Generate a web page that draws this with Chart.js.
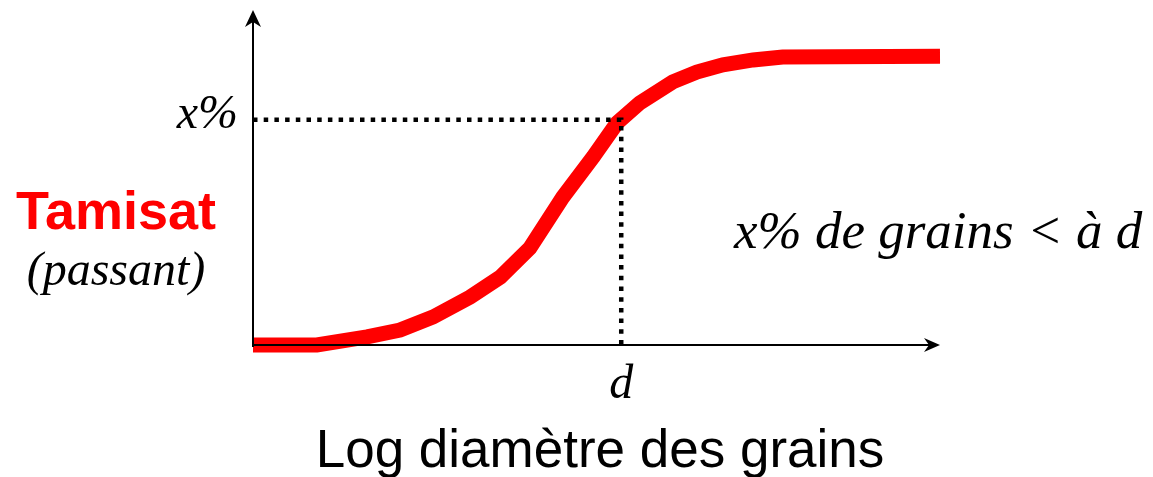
<!DOCTYPE html>
<html>
<head>
<meta charset="utf-8">
<script src="https://cdn.jsdelivr.net/npm/chart.js@4/dist/chart.umd.min.js"></script>
<style>
  html, body { margin: 0; padding: 0; background: #fff; }
  canvas { display: block; }
</style>
</head>
<body>
<canvas id="curveCanvas" width="1153" height="477"></canvas>
<script>
// granulometric curve (x: log diameter, y: % passing)
const logDiameter = [0, 9.3, 16.6, 21.4, 26.2, 31.6, 36.0, 40.3, 45.1, 49.5, 53.0, 56.3, 61.1, 64.6, 68.4, 72.8, 77.1, 100];
const passing     = [0, 0, 2.8, 5.2, 9.7, 16.6, 23.5, 33.6, 51.2, 65.1, 76.9, 83.8, 91.1, 94.5, 97.0, 98.7, 99.7, 100];

// the "d" marker and its x%
const markD = 53.6;
const markX = 78;

const xMax = 100;
const yMax = 116;

const curvePoints = logDiameter.map((x, i) => ({ x: x, y: passing[i] }));
const guidePoints = [
  { x: 0, y: markX },
  { x: markD, y: markX },
  { x: markD, y: 0 },
];

const serif = "'Liberation Serif', 'Times New Roman', serif";
const sans = "'Liberation Sans', Arial, sans-serif";

const axesAndLabels = {
  id: "axesAndLabels",
  afterDatasetsDraw(chart) {
    const c = chart.ctx;
    const xs = chart.scales.x;
    const ys = chart.scales.y;
    const x0 = xs.getPixelForValue(0);
    const y0 = ys.getPixelForValue(0);
    const top = chart.chartArea.top;
    const right = chart.chartArea.right;

    c.save();
    c.strokeStyle = "#000";
    c.fillStyle = "#000";
    c.lineWidth = 2;

    // y axis
    c.beginPath();
    c.moveTo(x0, y0 + 2);
    c.lineTo(x0, top + 8);
    c.stroke();
    c.beginPath();
    c.moveTo(x0, top);
    c.lineTo(x0 - 8, top + 17);
    c.lineTo(x0, top + 12);
    c.lineTo(x0 + 8, top + 17);
    c.closePath();
    c.fill();

    // x axis
    c.beginPath();
    c.moveTo(x0, y0);
    c.lineTo(right - 8, y0);
    c.stroke();
    c.beginPath();
    c.moveTo(right, y0);
    c.lineTo(right - 16, y0 - 7);
    c.lineTo(right - 11, y0);
    c.lineTo(right - 16, y0 + 7);
    c.closePath();
    c.fill();

    // labels
    c.textBaseline = "alphabetic";
    c.font = "italic 48px " + serif;
    c.textAlign = "right";
    c.fillText("x%", x0 - 15, ys.getPixelForValue(markX) + 8);

    c.textAlign = "center";
    c.fillText("d", xs.getPixelForValue(markD), y0 + 53);

    c.fillStyle = "#ff0000";
    c.font = "bold 54px " + sans;
    c.fillText("Tamisat", 116, 229);

    c.fillStyle = "#000";
    c.font = "italic 48px " + serif;
    c.fillText("(passant)", 116, 285);

    c.textAlign = "left";
    c.font = "italic 53px " + serif;
    c.fillText("x% de grains < à d", 734, 248);

    c.textAlign = "center";
    c.font = "53px " + sans;
    c.fillText("Log diamètre des grains", 600, 467);
    c.restore();
  }
};

new Chart(document.getElementById("curveCanvas").getContext("2d"), {
  type: "line",
  data: {
    datasets: [
      {
        label: "x% / d",
        data: guidePoints,
        borderColor: "#000",
        borderWidth: 4.5,
        borderDash: [4.5, 6.2],
        borderCapStyle: "butt",
        pointRadius: 0,
        tension: 0,
        clip: false,
      },
      {
        label: "Tamisat",
        data: curvePoints,
        borderColor: "#ff0000",
        borderWidth: 15,
        borderCapStyle: "butt",
        pointRadius: 0,
        tension: 0,
        clip: false,
      },
    ]
  },
  options: {
    responsive: false,
    devicePixelRatio: 1,
    animation: false,
    layout: { padding: { left: 253, right: 213, top: 10, bottom: 132 } },
    plugins: {
      legend: { display: false },
      tooltip: { enabled: false },
    },
    scales: {
      x: { type: "linear", min: 0, max: xMax, display: false },
      y: { type: "linear", min: 0, max: yMax, display: false },
    }
  },
  plugins: [axesAndLabels]
});
</script>
</body>
</html>
